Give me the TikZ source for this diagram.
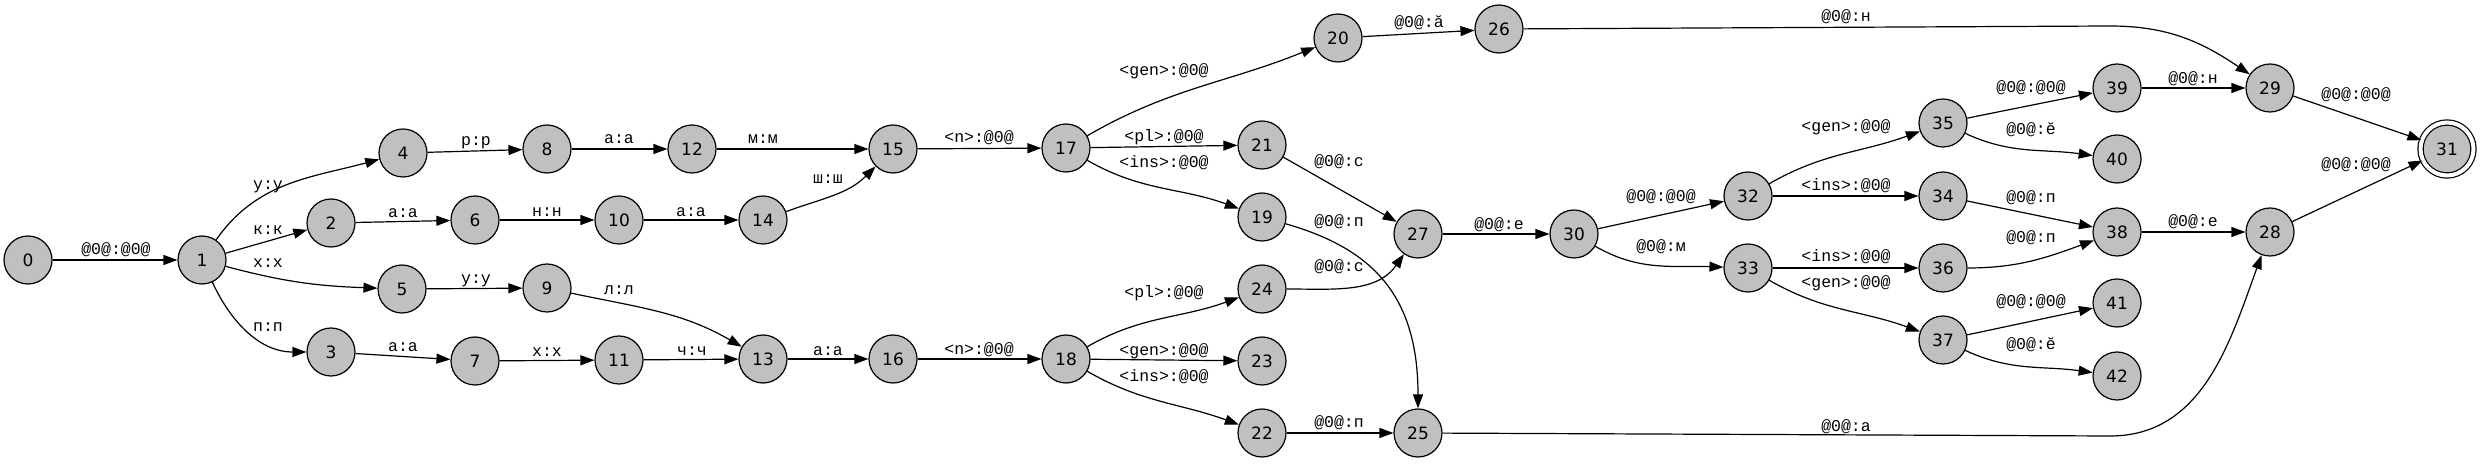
\documentclass[tikz,border=0pt]{standalone}
\usepackage{fontspec}
\setmainfont{DejaVu Sans}
\newfontfamily\lblfont{Liberation Mono}
\usepackage{tikz}
\usetikzlibrary{calc,positioning,shapes}
\usetikzlibrary{arrows.meta}
\tikzset{>={Triangle[width=10pt,length=14pt]}}
\definecolor{stategray}{RGB}{192,192,192}

\begin{document}
\begin{tikzpicture}[x=1pt,y=1pt]
    \tikzstyle{snode} = [draw, circle, fill=stategray, line width=1.2pt, minimum size=48pt, inner sep=0pt, font=\fontsize{17}{18}\selectfont]
    \tikzstyle{fnode} = [snode, minimum size=53pt, double, double distance=4pt]
    \tikzstyle{lbl} = [inner sep=0pt, font=\lblfont\fontsize{16.5}{17}\selectfont]
    \tikzstyle{arc} = [->, line width=1.2pt]

    \useasboundingbox (0,0) rectangle (2483,463);

    % states
    \node[snode] (0) at (28,203) {0};
    \node[snode] (1) at (202,203) {1};
    \node[snode] (2) at (331,240) {2};
    \node[snode] (3) at (331,111) {3};
    \node[snode] (4) at (403,310) {4};
    \node[snode] (5) at (402,174) {5};
    \node[snode] (6) at (475,243) {6};
    \node[snode] (7) at (475,102) {7};
    \node[snode] (8) at (547,314) {8};
    \node[snode] (9) at (547,175) {9};
    \node[snode] (10) at (619,243) {10};
    \node[snode] (11) at (619,103) {11};
    \node[snode] (12) at (692,314) {12};
    \node[snode] (13) at (763,104) {13};
    \node[snode] (14) at (763,243) {14};
    \node[snode] (15) at (893,314) {15};
    \node[snode] (16) at (893,104) {16};
    \node[snode] (17) at (1066,315) {17};
    \node[snode] (18) at (1066,104) {18};
    \node[snode] (19) at (1262,246) {19};
    \node[snode] (20) at (1338,425) {20};
    \node[snode] (21) at (1262,318) {21};
    \node[snode] (22) at (1262,30) {22};
    \node[snode] (23) at (1262,102) {23};
    \node[snode] (24) at (1262,174) {24};
    \node[snode] (25) at (1418,30) {25};
    \node[snode] (26) at (1499,434) {26};
    \node[snode] (27) at (1418,229) {27};
    \node[snode] (28) at (2270,231) {28};
    \node[snode] (29) at (2270,375) {29};
    \node[snode] (30) at (1574,229) {30};
    \node[fnode] (31) at (2447,314) {31};
    \node[snode] (32) at (1748,267) {32};
    \node[snode] (33) at (1748,195) {33};
    \node[snode] (34) at (1943,267) {34};
    \node[snode] (35) at (1943,340) {35};
    \node[snode] (36) at (1943,195) {36};
    \node[snode] (37) at (1943,123) {37};
    \node[snode] (38) at (2117,231) {38};
    \node[snode] (39) at (2117,375) {39};
    \node[snode] (40) at (2117,304) {40};
    \node[snode] (41) at (2117,160) {41};
    \node[snode] (42) at (2117,87) {42};

    % bends of the two long arcs
    \coordinate (b26) at (2110,437);
    \coordinate (b25) at (2110,27);

    % transitions
    \draw[arc] (0) -- (1);
    \draw[arc] (1) to[out=55,in=195] (4);
    \draw[arc] (1) -- (2);
    \draw[arc] (1) to[out=-15,in=178] (5);
    \draw[arc] (1) to[out=-65,in=180] (3);
    \draw[arc] (2) -- (6);
    \draw[arc] (3) -- (7);
    \draw[arc] (4) -- (8);
    \draw[arc] (5) -- (9);
    \draw[arc] (6) -- (10);
    \draw[arc] (7) -- (11);
    \draw[arc] (8) -- (12);
    \draw[arc] (9) to[out=-12,in=150] (13);
    \draw[arc] (10) -- (14);
    \draw[arc] (11) -- (13);
    \draw[arc] (12) -- (15);
    \draw[arc] (14) to[out=20,in=225] (15);
    \draw[arc] (13) -- (16);
    \draw[arc] (15) -- (17);
    \draw[arc] (16) -- (18);
    \draw[arc] (17) to[out=30,in=202] (20);
    \draw[arc] (17) -- (21);
    \draw[arc] (17) to[out=-30,in=160] (19);
    \draw[arc] (18) to[out=30,in=200] (24);
    \draw[arc] (18) -- (23);
    \draw[arc] (18) to[out=-30,in=160] (22);
    \draw[arc] (20) -- (26);
    \draw[arc] (21) -- (27);
    \draw[arc] (19) .. controls +(108,-31) and +(0,140) .. (25);
    \draw[arc] (24) to[out=0,in=235] (27);
    \draw[arc] (22) -- (25);
    \draw[arc] (27) -- (30);
    \draw[arc] (30) -- (32);
    \draw[arc] (30) to[out=-30,in=178] (33);
    \draw[arc] (26) -- (b26) to[out=0,in=146] (29);
    \draw[arc] (25) -- (b25) to[out=0,in=-110] (28);
    \draw[arc] (32) to[out=30,in=200] (35);
    \draw[arc] (32) -- (34);
    \draw[arc] (33) -- (36);
    \draw[arc] (33) to[out=-30,in=160] (37);
    \draw[arc] (35) -- (39);
    \draw[arc] (35) to[out=-25,in=172] (40);
    \draw[arc] (34) -- (38);
    \draw[arc] (36) to[out=0,in=200] (38);
    \draw[arc] (37) -- (41);
    \draw[arc] (37) to[out=-25,in=172] (42);
    \draw[arc] (39) -- (29);
    \draw[arc] (38) -- (28);
    \draw[arc] (29) -- (31);
    \draw[arc] (28) -- (31);

    % transition labels
    \node[lbl] (l0-1) at (116,213) {@0@:@0@};
    \node[lbl] (l1-4) at (268,276) {у:у};
    \node[lbl] (l1-2) at (268,233) {к:к};
    \node[lbl] (l1-5) at (268,200) {х:х};
    \node[lbl] (l1-3) at (268,136) {п:п};
    \node[lbl] (l2-6) at (403,250) {а:а};
    \node[lbl] (l3-7) at (403,116) {а:а};
    \node[lbl] (l4-8) at (476,320) {р:р};
    \node[lbl] (l5-9) at (476,182) {у:у};
    \node[lbl] (l6-10) at (547,251) {н:н};
    \node[lbl] (l7-11) at (547,111) {х:х};
    \node[lbl] (l8-12) at (619,324) {а:а};
    \node[lbl] (l9-13) at (619,173) {л:л};
    \node[lbl] (l10-14) at (691,251) {а:а};
    \node[lbl] (l11-13) at (692,112) {ч:ч};
    \node[lbl] (l12-15) at (763,324) {м:м};
    \node[lbl] (l14-15) at (828,284) {ш:ш};
    \node[lbl] (l13-16) at (828,112) {а:а};
    \node[lbl] (l15-17) at (979,325) {<n>:@0@};
    \node[lbl] (l16-18) at (979,113) {<n>:@0@};
    \node[lbl] (l17-20) at (1164,392) {<gen>:@0@};
    \node[lbl] (l17-21) at (1164,326) {<pl>:@0@};
    \node[lbl] (l17-19) at (1164,300) {<ins>:@0@};
    \node[lbl] (l18-24) at (1164,170) {<pl>:@0@};
    \node[lbl] (l18-23) at (1164,112) {<gen>:@0@};
    \node[lbl] (l18-22) at (1164,86) {<ins>:@0@};
    \node[lbl] (l20-26) at (1419,440) {@0@:ӑ};
    \node[lbl] (l21-27) at (1339,301) {@0@:с};
    \node[lbl] (l19-25) at (1339,241) {@0@:п};
    \node[lbl] (l24-27) at (1339,196) {@0@:с};
    \node[lbl] (l22-25) at (1339,40) {@0@:п};
    \node[lbl] (l27-30) at (1499,238) {@0@:е};
    \node[lbl] (l30-32) at (1661,266) {@0@:@0@};
    \node[lbl] (l30-33) at (1661,216) {@0@:м};
    \node[lbl] (l26-29) at (1846,446) {@0@:н};
    \node[lbl] (l25-28) at (1846,36) {@0@:а};
    \node[lbl] (l32-35) at (1846,336) {<gen>:@0@};
    \node[lbl] (l32-34) at (1846,277) {<ins>:@0@};
    \node[lbl] (l33-36) at (1846,206) {<ins>:@0@};
    \node[lbl] (l33-37) at (1846,180) {<gen>:@0@};
    \node[lbl] (l35-39) at (2031,375) {@0@:@0@};
    \node[lbl] (l35-40) at (2031,333) {@0@:ӗ};
    \node[lbl] (l34-38) at (2031,265) {@0@:п};
    \node[lbl] (l36-38) at (2031,225) {@0@:п};
    \node[lbl] (l37-41) at (2031,161) {@0@:@0@};
    \node[lbl] (l37-42) at (2031,118) {@0@:ӗ};
    \node[lbl] (l39-29) at (2193,384) {@0@:н};
    \node[lbl] (l38-28) at (2193,241) {@0@:е};
    \node[lbl] (l29-31) at (2356,368) {@0@:@0@};
    \node[lbl] (l28-31) at (2356,298) {@0@:@0@};
\end{tikzpicture}
\end{document}
